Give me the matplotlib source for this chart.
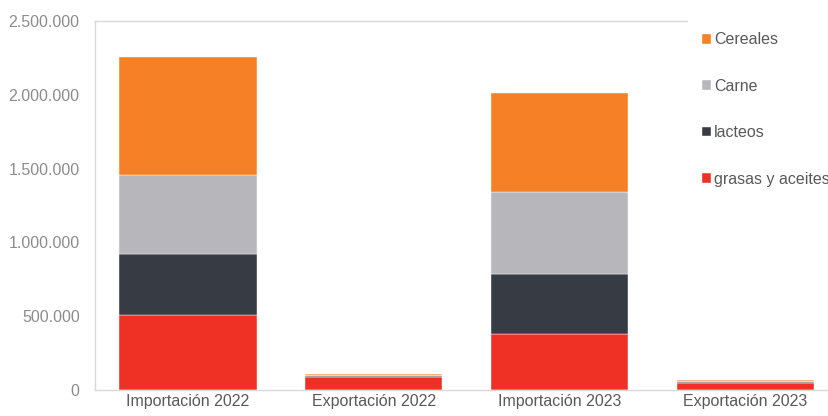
import matplotlib.pyplot as plt
from matplotlib.ticker import FuncFormatter
import numpy as np

categories = ["Importación 2022", "Exportación 2022", "Importación 2023", "Exportación 2023"]
grasas = [508000, 90000, 379000, 50000]
lacteos = [413000, 4000, 407000, 3000]
carne = [536000, 9000, 555000, 10000]
cereales = [799000, 5000, 671000, 6000]

series = [
    ("grasas y aceites", grasas, "#EE3124"),
    ("lacteos", lacteos, "#373B44"),
    ("Carne", carne, "#B7B6BA"),
    ("Cereales", cereales, "#F58025"),
]

plt.rcParams['font.family'] = ['Liberation Sans', 'DejaVu Sans']

W, H = 829, 416
fig = plt.figure(figsize=(W / 100, H / 100), dpi=100)
ax = fig.add_axes([95 / W, 26 / H, (W - 95) / W, 369 / H])

x = np.arange(len(categories))
bottom = np.zeros(len(categories))
handles = []
for name, vals, color in series:
    b = ax.bar(x, vals, width=0.74, bottom=bottom, color=color,
               edgecolor="white", linewidth=0.3, label=name)
    handles.append(b)
    bottom += np.array(vals)

ax.set_xlim(-0.5, 3.45)
ax.set_ylim(0, 2500000)
ax.set_yticks(np.arange(0, 2500001, 500000))
ax.yaxis.set_major_formatter(FuncFormatter(lambda v, p: f"{int(v):,}".replace(",", ".")))
ax.set_xticks(x)
ax.set_xticklabels(categories)
ax.tick_params(axis="both", length=0, labelsize=11.5)
ax.tick_params(axis="x", pad=3, colors="#595959")
ax.tick_params(axis="y", pad=11, colors="#8C8C8C")

for s in ["left", "top", "bottom"]:
    ax.spines[s].set_color("#D9D9D9")
    ax.spines[s].set_linewidth(1)
ax.spines["right"].set_visible(False)

leg = ax.legend(handles=handles[::-1], loc="upper left",
                bbox_to_anchor=(688 / W, 1 - 18 / H), bbox_transform=fig.transFigure,
                frameon=True, fancybox=False, edgecolor="white", framealpha=1,
                fontsize=11.5, labelspacing=1.97, handlelength=0.55, handleheight=0.55,
                handletextpad=0.2, borderpad=0.9, borderaxespad=0)
leg.get_frame().set_linewidth(0)
for t in leg.get_texts():
    t.set_color("#595959")

fig.savefig("out.png", dpi=100)
